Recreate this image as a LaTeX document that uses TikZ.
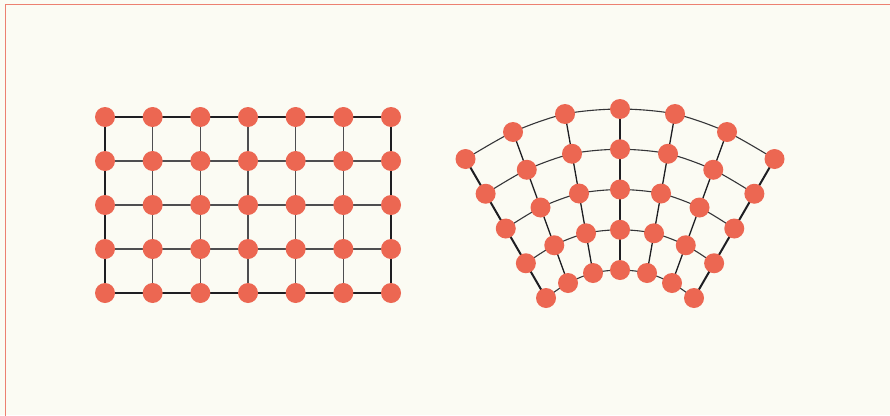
\documentclass[tikz,border=0pt]{standalone}
\definecolor{bgc}{HTML}{FBFBF3}
\definecolor{framec}{HTML}{EC8070}
\definecolor{dotc}{HTML}{EC6752}
\definecolor{innerc}{HTML}{4E4E50}
\definecolor{edgec}{HTML}{1E1E22}
\tikzset{
  dot/.style={circle,fill=dotc,draw=none,minimum size=20pt,inner sep=0pt},
  gridin/.style={draw=innerc,line width=1.3pt},
  gridedge/.style={draw=edgec,line width=1.4pt},
  arcline/.style={draw=edgec!90,line width=1.1pt},
  colline/.style={draw=edgec,line width=1.3pt},
  colbold/.style={draw=edgec,line width=2pt},
}
\begin{document}
\begin{tikzpicture}[x=1pt,y=-1pt]
\useasboundingbox (0,0) rectangle (890,415);
\clip (0,0) rectangle (890,415);
\fill[bgc] (0,0) rectangle (890,415);
\draw[framec,line width=1.2pt] (5.5,430) -- (5.5,4.5) -- (900,4.5);
% ---------- left grid ----------
\foreach \i in {0,...,6}{
  \foreach \j in {0,...,4}{
    \coordinate (a-\j-\i) at ({105+47.667*\i},{117+44*\j});
  }
}
\foreach \j in {1,2,3}{ \draw[gridin] (a-\j-0) -- (a-\j-6); }
\foreach \i in {1,...,5}{ \draw[gridin] (a-0-\i) -- (a-4-\i); }
\draw[gridedge] (a-0-0) -- (a-0-6) -- (a-4-6) -- (a-4-0) -- cycle;
\foreach \i in {0,...,6}{
  \foreach \j in {0,...,4}{
    \node[dot] (na-\j-\i) at (a-\j-\i) {};
  }
}
% ---------- right fan grid ----------
\def\ox{{-154.5,-107,-55,0,55,107,154.5}}
\def\oy{{159,132,114,109,114,132,159}}
\def\ix{{-74,-52,-27,0,27,52,74}}
\def\iy{{298,283,273,270,273,283,298}}
\foreach \k in {0,...,6}{
  \foreach \j in {0,...,4}{
    \pgfmathsetmacro{\px}{620+\ox[\k]+(\ix[\k]-\ox[\k])*\j/4}
    \pgfmathsetmacro{\py}{\oy[\k]+(\iy[\k]-\oy[\k])*\j/4}
    \coordinate (b-\j-\k) at (\px,\py);
  }
}
\foreach \j in {0,...,4}{
  \draw[arcline] plot[smooth] coordinates {(b-\j-0) (b-\j-1) (b-\j-2) (b-\j-3) (b-\j-4) (b-\j-5) (b-\j-6)};
}
\foreach \k in {1,2,4,5}{ \draw[colline] (b-0-\k) -- (b-4-\k); }
\foreach \k in {0,3,6}{ \draw[colbold] (b-0-\k) -- (b-4-\k); }
\foreach \k in {0,...,6}{
  \foreach \j in {0,...,4}{
    \node[dot] (nb-\j-\k) at (b-\j-\k) {};
  }
}
\end{tikzpicture}
\end{document}
